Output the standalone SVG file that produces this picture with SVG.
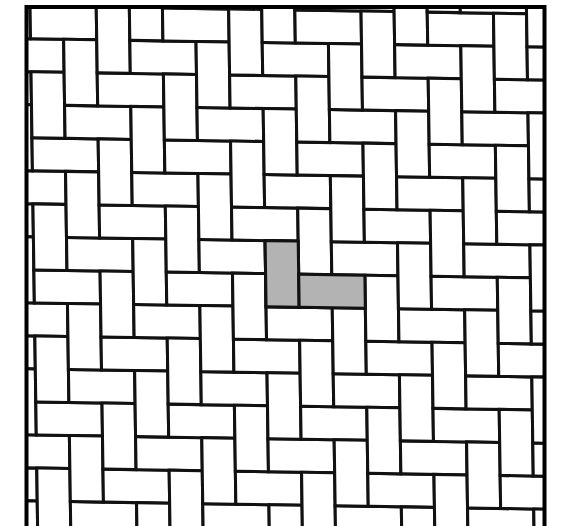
<svg xmlns="http://www.w3.org/2000/svg" xmlns:xlink="http://www.w3.org/1999/xlink" width="570" height="526" viewBox="0 0 570 526">
<style>
.b{fill:#fff;stroke:#111;stroke-width:0.092}
.g{fill:#b3b3b3;stroke:#111;stroke-width:0.092}
.frame{fill:none;stroke:#000;stroke-width:4}
</style>
<defs>
<clipPath id="clip"><rect x="26.5" y="7" width="518" height="530"/></clipPath>
<g id="stair" class="b">
<rect x="-10" y="10" width="1" height="2"/><rect x="-9" y="11" width="2" height="1"/>
<rect x="-9" y="9" width="1" height="2"/><rect x="-8" y="10" width="2" height="1"/>
<rect x="-8" y="8" width="1" height="2"/><rect x="-7" y="9" width="2" height="1"/>
<rect x="-7" y="7" width="1" height="2"/><rect x="-6" y="8" width="2" height="1"/>
<rect x="-6" y="6" width="1" height="2"/><rect x="-5" y="7" width="2" height="1"/>
<rect x="-5" y="5" width="1" height="2"/><rect x="-4" y="6" width="2" height="1"/>
<rect x="-4" y="4" width="1" height="2"/><rect x="-3" y="5" width="2" height="1"/>
<rect x="-3" y="3" width="1" height="2"/><rect x="-2" y="4" width="2" height="1"/>
<rect x="-2" y="2" width="1" height="2"/><rect x="-1" y="3" width="2" height="1"/>
<rect x="-1" y="1" width="1" height="2"/><rect x="0" y="2" width="2" height="1"/>
<rect x="0" y="0" width="1" height="2"/><rect x="1" y="1" width="2" height="1"/>
<rect x="1" y="-1" width="1" height="2"/><rect x="2" y="0" width="2" height="1"/>
<rect x="2" y="-2" width="1" height="2"/><rect x="3" y="-1" width="2" height="1"/>
<rect x="3" y="-3" width="1" height="2"/><rect x="4" y="-2" width="2" height="1"/>
<rect x="4" y="-4" width="1" height="2"/><rect x="5" y="-3" width="2" height="1"/>
<rect x="5" y="-5" width="1" height="2"/><rect x="6" y="-4" width="2" height="1"/>
<rect x="6" y="-6" width="1" height="2"/><rect x="7" y="-5" width="2" height="1"/>
<rect x="7" y="-7" width="1" height="2"/><rect x="8" y="-6" width="2" height="1"/>
<rect x="8" y="-8" width="1" height="2"/><rect x="9" y="-7" width="2" height="1"/>
<rect x="9" y="-9" width="1" height="2"/><rect x="10" y="-8" width="2" height="1"/>
<rect x="10" y="-10" width="1" height="2"/><rect x="11" y="-9" width="2" height="1"/>
</g>
</defs>
<rect width="570" height="526" fill="#fff"/>
<g id="pavement" clip-path="url(#clip)">
<g transform="matrix(33.1 0.53 0.48 33.02 265.1 240.6)">
<use href="#stair" transform="translate(-10 -10)"/>
<use href="#stair" transform="translate(-8 -8)"/>
<use href="#stair" transform="translate(-6 -6)"/>
<use href="#stair" transform="translate(-4 -4)"/>
<use href="#stair" transform="translate(-2 -2)"/>
<use href="#stair"/>
<use href="#stair" transform="translate(2 2)"/>
<use href="#stair" transform="translate(4 4)"/>
<use href="#stair" transform="translate(6 6)"/>
<use href="#stair" transform="translate(8 8)"/>
<use href="#stair" transform="translate(10 10)"/>
</g>
</g>
<g id="highlight" transform="matrix(33.1 0.53 0.48 33.02 265.1 240.6)">
<rect class="g" x="0" y="0" width="1" height="2"/>
<rect class="g" x="1" y="1" width="2" height="1"/>
</g>
<g id="frame">
<rect class="frame" x="26.5" y="7" width="518" height="530"/>
</g>
</svg>
